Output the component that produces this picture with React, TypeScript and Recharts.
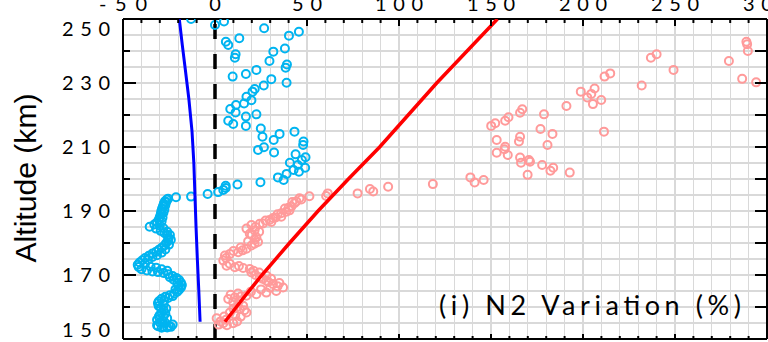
import { ScatterChart, Scatter, XAxis, YAxis, CartesianGrid, ReferenceLine } from "recharts";

// N2 variation (%) vs altitude (km)
const cyanObs = [
  { x: -31, y: 154 }, { x: -28, y: 153.8 }, { x: -25, y: 154 }, { x: -23, y: 154.5 },
  { x: -30, y: 155.2 }, { x: -27, y: 155 }, { x: -31.5, y: 156 }, { x: -30.5, y: 157 },
  { x: -30, y: 157.5 }, { x: -29, y: 158.3 }, { x: -28, y: 159.1 }, { x: -29.5, y: 159.8 },
  { x: -30.6, y: 160.3 }, { x: -31, y: 161.2 }, { x: -30.5, y: 161.8 }, { x: -29, y: 162.6 },
  { x: -27, y: 163.2 }, { x: -24.5, y: 163.7 }, { x: -22, y: 164.2 }, { x: -20.5, y: 164.8 },
  { x: -19.5, y: 165.4 }, { x: -18.5, y: 166.1 }, { x: -18, y: 166.9 }, { x: -18.5, y: 167.6 },
  { x: -19.5, y: 168.4 }, { x: -21, y: 169.1 }, { x: -23, y: 169.7 }, { x: -25.5, y: 170.2 },
  { x: -28, y: 170.6 }, { x: -31, y: 170.9 }, { x: -34, y: 171.1 }, { x: -37, y: 171.4 },
  { x: -40, y: 171.8 }, { x: -41.5, y: 172.5 }, { x: -42, y: 173.2 }, { x: -41, y: 173.9 },
  { x: -39.5, y: 174.6 }, { x: -38, y: 175.3 }, { x: -36, y: 176 }, { x: -34, y: 176.7 },
  { x: -32, y: 177.3 }, { x: -30.5, y: 177.9 }, { x: -29, y: 178.5 }, { x: -27.5, y: 179.2 },
  { x: -26.5, y: 180 }, { x: -25.5, y: 180.8 }, { x: -25.2, y: 181.6 }, { x: -26, y: 182.4 },
  { x: -27.5, y: 183.1 }, { x: -29.5, y: 183.8 }, { x: -32, y: 184.5 }, { x: -35.5, y: 185.1 },
  { x: -33, y: 185.8 }, { x: -31.5, y: 186.5 }, { x: -30.5, y: 187.3 }, { x: -30, y: 188.1 },
  { x: -29.5, y: 189 }, { x: -29.2, y: 189.9 }, { x: -28.8, y: 190.7 }, { x: -28.3, y: 191.5 },
  { x: -27.8, y: 192.3 }, { x: -27.2, y: 193 }, { x: -26.2, y: 193.6 },
  { x: -29, y: 153.5 }, { x: -26, y: 153.6 }, { x: -24, y: 153.8 }, { x: -31.5, y: 154.3 },
  { x: -28.5, y: 155.8 }, { x: -26, y: 156.5 }, { x: -28, y: 157 }, { x: -27, y: 158 },
  { x: -26.5, y: 159.5 }, { x: -28, y: 160.8 }, { x: -27.5, y: 162 }, { x: -25.5, y: 162.8 },
  { x: -23, y: 163.4 }, { x: -21.5, y: 165.5 }, { x: -20, y: 166.5 }, { x: -20.5, y: 167.5 },
  { x: -22.5, y: 168.5 }, { x: -24.5, y: 169.3 }, { x: -26, y: 171.3 }, { x: -29, y: 171.8 },
  { x: -32, y: 172.3 }, { x: -35, y: 172.6 }, { x: -38, y: 173.6 }, { x: -36.5, y: 174.8 },
  { x: -34, y: 175.6 }, { x: -31.5, y: 176.2 }, { x: -29, y: 177 }, { x: -27, y: 178 },
  { x: -25, y: 179.5 }, { x: -24, y: 181 }, { x: -24.5, y: 182.5 }, { x: -26, y: 183.5 },
  { x: -28, y: 184.6 }, { x: -30, y: 185.5 }, { x: -29, y: 186.8 }, { x: -28.5, y: 188 },
  { x: -28, y: 189.5 }, { x: -27.5, y: 190.5 }, { x: -27, y: 191.8 }, { x: -26.5, y: 192.8 },
  { x: -25.5, y: 193.8 },
  { x: -21.2, y: 194.3 }, { x: -13, y: 194.5 }, { x: -4, y: 195.3 }, { x: 1.7, y: 195.9 },
  { x: 4.5, y: 196.6 }, { x: 5.8, y: 197.2 }, { x: 5.8, y: 197.9 }, { x: 12.2, y: 198.3 },
  { x: 24.7, y: 199 }, { x: 37.3, y: 199.7 }, { x: 34.2, y: 200.5 }, { x: 38.9, y: 201.6 },
  { x: 45.6, y: 202.3 }, { x: 42.7, y: 202.8 }, { x: 49, y: 203.5 }, { x: 45, y: 204.4 },
  { x: 40.7, y: 205.1 }, { x: 47.2, y: 205.9 }, { x: 49.2, y: 206.8 }, { x: 43.8, y: 207.7 },
  { x: 32.1, y: 208.3 }, { x: 23.4, y: 209.1 }, { x: 26.6, y: 209.9 }, { x: 47.9, y: 210.6 },
  { x: 48.1, y: 211.7 }, { x: 31.9, y: 212.2 }, { x: 25.8, y: 213.2 }, { x: 35.1, y: 214.1 },
  { x: 43.2, y: 214.8 }, { x: 24.9, y: 215.8 }, { x: 16.8, y: 216.6 }, { x: 9.9, y: 217.2 },
  { x: 7.2, y: 218.2 }, { x: 16.8, y: 219.5 }, { x: 22.5, y: 220.2 }, { x: 11.2, y: 220.8 },
  { x: 8.3, y: 221.9 }, { x: 11.4, y: 223.1 }, { x: 15.8, y: 223.6 }, { x: 19.8, y: 224.6 },
  { x: 17.1, y: 225.7 }, { x: 20.4, y: 227.3 }, { x: 21.6, y: 228.1 }, { x: 26.5, y: 229.2 },
  { x: 38.9, y: 230.1 }, { x: 30.6, y: 231.2 }, { x: 9.6, y: 232 }, { x: 16.8, y: 232.8 },
  { x: 22.5, y: 234.1 }, { x: 38.4, y: 234.8 }, { x: 39.1, y: 235.8 }, { x: 29.6, y: 236.9 },
  { x: 10.8, y: 237.9 }, { x: 11.2, y: 239 }, { x: 31.7, y: 239.8 }, { x: 38, y: 240.8 },
  { x: 7.2, y: 241.9 }, { x: 5.9, y: 242.9 }, { x: 13.2, y: 244 }, { x: 40.2, y: 244.8 },
  { x: 45.6, y: 246 }, { x: 26.7, y: 247.1 }, { x: 0, y: 248.1 }, { x: 4.9, y: 249.2 },
  { x: -13, y: 250 },
];

const pinkObs = [
  { x: 0.9, y: 156.5 }, { x: 4.5, y: 154.9 }, { x: 9.9, y: 154.9 }, { x: 3, y: 155.5 },
  { x: 6, y: 156 }, { x: 8.1, y: 158.3 }, { x: 11, y: 157.5 }, { x: 13.5, y: 159.3 },
  { x: 17.1, y: 158.3 }, { x: 15.3, y: 160.4 }, { x: 12, y: 160 }, { x: 9.9, y: 161.5 },
  { x: 7.2, y: 162.5 }, { x: 10.8, y: 163 }, { x: 14, y: 163.3 }, { x: 17.1, y: 163.5 },
  { x: 22.5, y: 164 }, { x: 27.9, y: 164.5 }, { x: 33.3, y: 165 }, { x: 37, y: 166.1 },
  { x: 34, y: 166.5 }, { x: 31.5, y: 167.2 }, { x: 29, y: 167.8 }, { x: 27.9, y: 168.2 },
  { x: 26, y: 168.8 }, { x: 24.3, y: 169.3 }, { x: 22, y: 170 }, { x: 19.8, y: 170.8 },
  { x: 18.9, y: 171.9 }, { x: 15.3, y: 172.2 }, { x: 10.8, y: 172.4 }, { x: 6.3, y: 172.9 },
  { x: 4.5, y: 174.5 }, { x: 5.4, y: 176.1 }, { x: 8.1, y: 176.6 }, { x: 12.6, y: 177.1 },
  { x: 15, y: 177.7 }, { x: 17.1, y: 178.2 }, { x: 19.8, y: 179.2 }, { x: 21.5, y: 179.8 },
  { x: 23.4, y: 180.3 }, { x: 22.5, y: 181.8 }, { x: 20, y: 182.5 }, { x: 18.9, y: 182.9 },
  { x: 17.1, y: 184.5 }, { x: 19.8, y: 185.6 }, { x: 24.3, y: 186 }, { x: 26.1, y: 186.1 },
  { x: 30.6, y: 186.6 }, { x: 29.7, y: 187.2 }, { x: 33, y: 188 }, { x: 36, y: 188.2 },
  { x: 36, y: 189.3 }, { x: 38.8, y: 189.8 }, { x: 40.5, y: 190.2 }, { x: 41.5, y: 191.4 },
  { x: 43.2, y: 192.4 }, { x: 44.2, y: 193 }, { x: 45.9, y: 194 }, { x: 46.9, y: 193.6 },
  { x: 2, y: 154.5 }, { x: 6.5, y: 154.3 }, { x: 12, y: 155.5 }, { x: 14, y: 157 },
  { x: 16, y: 159 }, { x: 5, y: 157 }, { x: 10, y: 159.5 }, { x: 13, y: 161.8 },
  { x: 8.5, y: 163.8 }, { x: 12.5, y: 164.2 }, { x: 19.5, y: 164.8 }, { x: 25, y: 165.5 },
  { x: 30, y: 166 }, { x: 35, y: 167.5 }, { x: 30.5, y: 168.8 }, { x: 28, y: 169.8 },
  { x: 24, y: 170.8 }, { x: 21, y: 171.3 }, { x: 13, y: 172.8 }, { x: 8, y: 173.5 },
  { x: 6, y: 175.3 }, { x: 10, y: 177.5 }, { x: 14, y: 178.6 }, { x: 18, y: 180.5 },
  { x: 21.5, y: 181 }, { x: 24, y: 183.5 }, { x: 21.5, y: 184 }, { x: 22, y: 185 },
  { x: 27.5, y: 187 }, { x: 31.5, y: 187.8 }, { x: 34, y: 189 }, { x: 38, y: 190.8 },
  { x: 40, y: 191 }, { x: 42, y: 192.8 },
  { x: 51.3, y: 194.6 }, { x: 60.4, y: 194.7 }, { x: 61.3, y: 195.5 }, { x: 77.5, y: 195.5 },
  { x: 84.2, y: 196.9 }, { x: 86, y: 196.1 }, { x: 94.1, y: 197.6 }, { x: 118.4, y: 198.4 },
  { x: 138.8, y: 200.5 }, { x: 141.1, y: 198.9 }, { x: 146, y: 199.7 }, { x: 166.3, y: 205.1 },
  { x: 169.9, y: 201.3 }, { x: 171.2, y: 205.4 }, { x: 177.8, y: 204.4 }, { x: 182.3, y: 202.6 },
  { x: 183.8, y: 203.5 }, { x: 192.8, y: 202 }, { x: 170.6, y: 205.9 }, { x: 165.8, y: 206.7 },
  { x: 153.1, y: 208.2 }, { x: 159.1, y: 207.5 }, { x: 157.3, y: 209.3 }, { x: 157.7, y: 210.1 },
  { x: 153.1, y: 212.2 }, { x: 165.2, y: 211.7 }, { x: 165.8, y: 213.2 }, { x: 180.7, y: 210.6 },
  { x: 183.4, y: 214.1 }, { x: 176.9, y: 215.6 }, { x: 211.4, y: 214.8 }, { x: 150.1, y: 216.6 },
  { x: 152.3, y: 217.4 }, { x: 157.7, y: 218.2 }, { x: 159.5, y: 219.3 }, { x: 165.8, y: 220.7 },
  { x: 167, y: 221.8 }, { x: 178.8, y: 220.2 }, { x: 191, y: 222.8 }, { x: 198.8, y: 227.3 },
  { x: 202.3, y: 225.5 }, { x: 204.5, y: 226.6 }, { x: 205.4, y: 223.4 }, { x: 209.9, y: 224.7 },
  { x: 206.3, y: 228.3 }, { x: 211.7, y: 232 }, { x: 214.8, y: 233 }, { x: 231.9, y: 229.2 },
  { x: 236.9, y: 237.9 }, { x: 240, y: 239 }, { x: 249.2, y: 234.1 }, { x: 279.3, y: 236.9 },
  { x: 286.5, y: 231.3 }, { x: 294.1, y: 230.2 }, { x: 288.8, y: 242.9 }, { x: 289.2, y: 242.1 },
  { x: 289.6, y: 240 },
];

const blueModel = [
  { x: -8.1, y: 155.4 }, { x: -8.8, y: 165 }, { x: -9.6, y: 175 }, { x: -10.3, y: 185 },
  { x: -10.9, y: 195 }, { x: -11.5, y: 205 }, { x: -12.5, y: 215 }, { x: -14.2, y: 225 },
  { x: -16.3, y: 235 }, { x: -17.8, y: 242 }, { x: -19.4, y: 250 },
];

const redModel = [
  { x: 5.4, y: 155.4 }, { x: 15, y: 162.5 }, { x: 25.5, y: 170 }, { x: 40.5, y: 180 },
  { x: 56, y: 190 }, { x: 72.5, y: 200 }, { x: 89.5, y: 210 }, { x: 105, y: 220 },
  { x: 120.5, y: 230 }, { x: 137, y: 240 }, { x: 153.5, y: 250 },
];

const xTicks = [-50, -40, -30, -20, -10, 0, 10, 20, 30, 40, 50, 60, 70, 80, 90, 100, 110, 120, 130, 140, 150,
  160, 170, 180, 190, 200, 210, 220, 230, 240, 250, 260, 270, 280, 290, 300];
const yTicks = [150, 155, 160, 165, 170, 175, 180, 185, 190, 195, 200, 205, 210, 215, 220, 225, 230, 235,
  240, 245, 250];

const PLOT_LEFT = 123;
const PLOT_RIGHT = 767;
const PLOT_TOP = 49;
const PLOT_BOTTOM = 369;
const TICK_FONT = "Lato, 'DejaVu Sans', sans-serif";
const GRID = "#d9d9d9";

const labelLen = (s: string) => s.length * 18 - 6;

function LeftTick(props: any) {
  const { y, payload } = props;
  const v = payload.value;
  if (v % 10 !== 0) return <g />;
  const major = (v - 150) % 20 === 0;
  const shift = v === 250 ? 10 : v === 150 ? -9 : 0;
  const s = String(v);
  return (
    <g>
      <line x1={PLOT_LEFT} x2={PLOT_LEFT + (major ? 13 : 7)} y1={y} y2={y} stroke="#000" strokeWidth={2} />
      {major && (
        <text x={PLOT_LEFT - 13} y={y + shift + 7} textAnchor="end" fontFamily={TICK_FONT} fontSize={20}
          fill="#000" textLength={labelLen(s)} lengthAdjust="spacing">{s}</text>
      )}
    </g>
  );
}

function RightTick(props: any) {
  const { y, payload } = props;
  if (payload.value % 10 !== 0) return <g />;
  return <line x1={PLOT_RIGHT} x2={PLOT_RIGHT - 12} y1={y} y2={y} stroke="#000" strokeWidth={2} />;
}

// labels sit above the top frame and are cropped by the picture edge, as in the original figure
function TopTick(props: any) {
  const { x, payload } = props;
  const v = payload.value;
  const major = v % 50 === 0;
  const s = String(v);
  return (
    <g>
      <line x1={x} x2={x} y1={PLOT_TOP} y2={PLOT_TOP + (major ? 7 : 4)} stroke="#000" strokeWidth={2} />
      {major && (
        <text x={x} y={PLOT_TOP - 8} textAnchor="middle" fontFamily={TICK_FONT} fontSize={20} fill="#000"
          textLength={labelLen(s)} lengthAdjust="spacing">{s}</text>
      )}
    </g>
  );
}

function BottomTick(props: any) {
  const { x, payload } = props;
  const major = payload.value % 50 === 0;
  return <line x1={x} x2={x} y1={PLOT_BOTTOM} y2={PLOT_BOTTOM - (major ? 5 : 3)} stroke="#000" strokeWidth={2} />;
}

const Ring = (color: string) => (p: any) =>
  <circle cx={p.cx} cy={p.cy} r={4} fill="none" stroke={color} strokeWidth={2} />;

const NoDot = () => <g />;

export default function App() {
  return (
    <div style={{ width: 768, height: 342, overflow: "hidden", position: "relative" }}>
      <style>{"body{margin:0}"}</style>
      <div style={{ marginTop: -30 }}>
        <ScatterChart width={768} height={372} margin={{ top: 0, right: 0, bottom: 0, left: 0 }}>
          <CartesianGrid xAxisId="b" yAxisId="l" stroke={GRID} strokeWidth={1.2} horizontal={false}
            shapeRendering="crispEdges" />
          {yTicks.map((t) => (
            <ReferenceLine key={`h${t}`} y={t} xAxisId="b" yAxisId="l" stroke={GRID} strokeWidth={1.2}
              shapeRendering="crispEdges" />
          ))}
          <XAxis xAxisId="b" type="number" dataKey="x" domain={[-50, 300]} ticks={xTicks} interval={0}
            height={3} orientation="bottom" allowDataOverflow axisLine={{ stroke: "#000", strokeWidth: 2 }}
            tickLine={false} tick={BottomTick} />
          <XAxis xAxisId="t" type="number" dataKey="x" domain={[-50, 300]} ticks={xTicks} interval={0} height={49}
            orientation="top" allowDataOverflow axisLine={{ stroke: "#000", strokeWidth: 2 }} tickLine={false}
            tick={TopTick} />
          <YAxis yAxisId="l" type="number" dataKey="y" domain={[150, 250]} ticks={yTicks} interval={0}
            width={123} allowDataOverflow axisLine={{ stroke: "#000", strokeWidth: 2 }} tickLine={false}
            tick={LeftTick}
            label={() => (
              <text transform="translate(36,208) rotate(-90)" textAnchor="middle"
                fontFamily="'Liberation Sans', Arial, sans-serif" fontSize={29} fill="#000" textLength={169}
                lengthAdjust="spacingAndGlyphs">Altitude (km)</text>
            )} />
          <YAxis yAxisId="r" type="number" dataKey="y" domain={[150, 250]} ticks={yTicks} interval={0} width={1}
            orientation="right" allowDataOverflow axisLine={{ stroke: "#000", strokeWidth: 2 }} tickLine={false}
            tick={RightTick} />
          <Scatter data={cyanObs} xAxisId="b" yAxisId="l" shape={Ring("#00b4f0")} isAnimationActive={false} />
          <Scatter data={pinkObs} xAxisId="b" yAxisId="l" shape={Ring("#ff9a9a")} isAnimationActive={false} />
          <Scatter data={blueModel} xAxisId="b" yAxisId="l" shape={NoDot} line={{ stroke: "#0000ff", strokeWidth: 3 }}
            isAnimationActive={false} />
          <Scatter data={redModel} xAxisId="b" yAxisId="l" shape={NoDot} line={{ stroke: "#ff0000", strokeWidth: 3.5 }}
            isAnimationActive={false} />
          {/* ties the top and right frame axes to data so they are drawn */}
          <Scatter data={redModel} xAxisId="t" yAxisId="r" shape={NoDot} isAnimationActive={false} />
          <ReferenceLine x={0} xAxisId="b" yAxisId="l" stroke="#000" strokeWidth={3.5} strokeDasharray="15 15" />
        </ScatterChart>
      </div>
      <svg width={768} height={342} style={{ position: "absolute", left: 0, top: 0, pointerEvents: "none" }}>
        <text x={439} y={315} fontFamily={TICK_FONT} fontSize={27} fill="#000" textLength={302}
          lengthAdjust="spacing">(i) N2 Variation (%)</text>
      </svg>
    </div>
  );
}
